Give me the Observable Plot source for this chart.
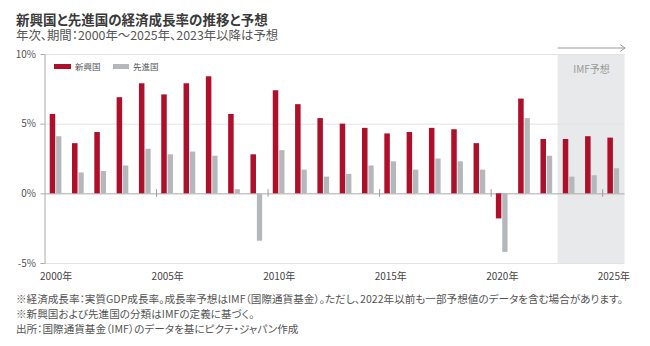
<!DOCTYPE html>
<html><head><meta charset="utf-8">
<script src="https://cdn.jsdelivr.net/npm/d3@7"></script>
<script src="https://cdn.jsdelivr.net/npm/@observablehq/plot@0.6"></script>
<style>
body{margin:0;background:#fff;font-family:"Noto Sans CJK JP","Noto Sans",sans-serif;font-feature-settings:"palt";}
#wrap{position:relative;width:650px;height:346px;overflow:hidden;background:#fff}
.t{position:absolute;left:16px;white-space:nowrap}
#chart{position:absolute;left:0;top:42px}
.lg{position:absolute;top:61px;font-size:8.5px;line-height:10px;color:#555;white-space:nowrap}
.sw{position:absolute;top:63.5px;height:5px}
.fn{font-size:10.6px;line-height:15px;color:#555}
</style></head><body>
<div id="wrap">
<div class="t" style="top:10.5px;font-size:13.5px;line-height:16px;font-weight:bold;color:#3a3a3a">新興国と先進国の経済成長率の推移と予想</div>
<div class="t" style="top:28.5px;font-size:12.4px;line-height:13px;color:#555">年次、期間：2000年～2025年、2023年以降は予想</div>
<div id="chart"></div>
<div class="sw" id="sw1" style="left:54px;width:17px"></div>
<div class="lg" id="lg1" style="left:75px"></div>
<div class="sw" id="sw2" style="left:113px;width:16px"></div>
<div class="lg" id="lg2" style="left:133px"></div>
<div class="t fn" id="fn" style="top:291px"></div>
</div>
<script>
const years = [2000,2001,2002,2003,2004,2005,2006,2007,2008,2009,2010,2011,2012,2013,2014,2015,2016,2017,2018,2019,2020,2021,2022,2023,2024,2025];
const emerging = [5.7,3.6,4.4,6.9,7.9,7.1,7.9,8.4,5.7,2.8,7.4,6.4,5.4,5.0,4.7,4.3,4.4,4.7,4.6,3.6,-1.8,6.8,3.9,3.9,4.1,4.0];
const advanced = [4.1,1.5,1.6,2.0,3.2,2.8,3.0,2.7,0.3,-3.4,3.1,1.7,1.2,1.4,2.0,2.3,1.7,2.5,2.3,1.7,-4.2,5.4,2.7,1.2,1.3,1.8];
const seriesNames = ["新興国","先進国"];
const colors = ["#ae0f2a","#b5b8bb"];
const yTicks = [-5,0,5,10];
const yGrid = [-5,5,10];
const labelYears = [2000,2005,2010,2015,2020,2025];
const forecastStart = 2023;
const forecastLabel = "IMF予想";
const footnotes = [
 "※経済成長率：実質GDP成長率。成長率予想はIMF（国際通貨基金）。ただし、2022年以前も一部予想値のデータを含む場合があります。",
 "※新興国および先進国の分類はIMFの定義に基づく。",
 "出所：国際通貨基金（IMF）のデータを基にピクテ・ジャパン作成"
];

const rows = years.map((year,i)=>({year, em: emerging[i], ae: advanced[i]}));
const lastYear = years[years.length-1];
const forecast = [{start: forecastStart, end: lastYear + 1, label: forecastLabel}];
const font = '"Noto Sans CJK JP","Noto Sans",sans-serif';

const chart = Plot.plot({
  width: 650, height: 246,
  marginLeft: 44.5, marginRight: 25.5, marginTop: 12, marginBottom: 25,
  style: {fontFamily: font, fontSize: "10px", color: "#555", background: "transparent"},
  x: {type: "linear", domain: [years[0], lastYear + 1]},
  y: {domain: [-5, 10]},
  marks: [
    Plot.rect(forecast, {x1: "start", x2: "end", fill: "#e8e9ea"}),
    Plot.gridY(yGrid, {stroke: "#e3e3e3", strokeOpacity: 1}),
    Plot.ruleY([0], {stroke: "#aaaaaa"}),
    Plot.frame({anchor: "left", stroke: "#aaaaaa"}),
    Plot.rect(rows, {x1: "year", x2: d => d.year + 1, y1: 0, y2: "em", fill: colors[0], insetLeft: 5.2, insetRight: 11.6}),
    Plot.rect(rows, {x1: "year", x2: d => d.year + 1, y1: 0, y2: "ae", fill: colors[1], insetLeft: 11.6, insetRight: 5.4}),
    Plot.ruleX(labelYears.slice(1), {y1: -0.25, y2: 0.3, stroke: "#999"}),
    Plot.axisY(yTicks, {tickFormat: d => d + "%", tickSize: 4, tickPadding: 5, stroke: "#aaaaaa", fill: "#555", fontSize: 10}),
    Plot.axisX(labelYears, {tickFormat: d => d + "年", tickSize: 0, tickPadding: 9, dx: 11.15, fill: "#444", fontSize: 10}),
    Plot.text(forecast, {x: d => (d.start + d.end) / 2, frameAnchor: "top", dy: 11, text: "label", fill: "#999", fontSize: 10}),
    Plot.arrow(forecast, {x1: "start", x2: "end", y1: 10, y2: 10, dy: -6.5, stroke: "#9a9a9a", strokeWidth: 1, headLength: 8, headAngle: 70})
  ]
});
document.getElementById("chart").append(chart);
document.getElementById("sw1").style.background = colors[0];
document.getElementById("sw2").style.background = colors[1];
document.getElementById("lg1").textContent = seriesNames[0];
document.getElementById("lg2").textContent = seriesNames[1];
document.getElementById("fn").innerHTML = footnotes.map(s => `<div>${s}</div>`).join("");
</script>
</body></html>
